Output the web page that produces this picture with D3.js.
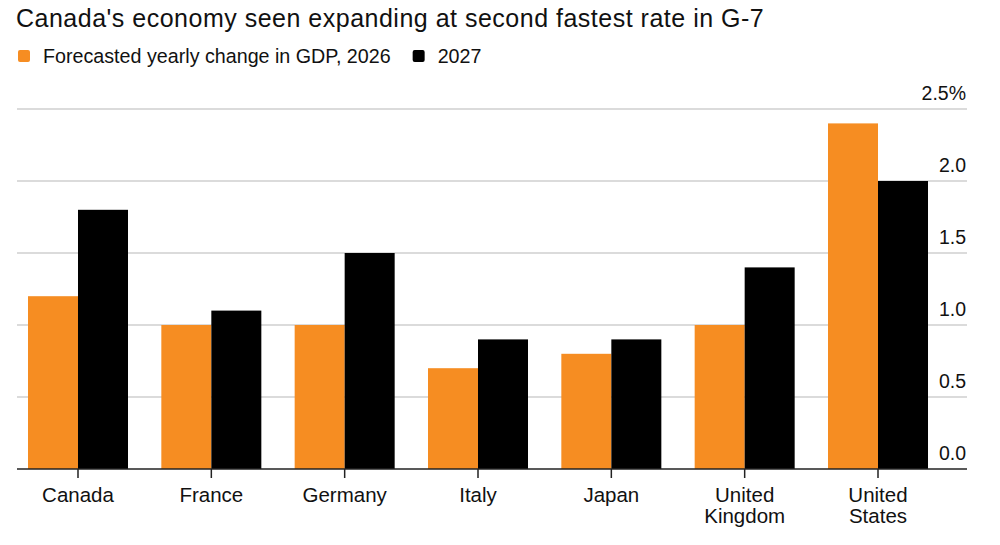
<!DOCTYPE html>
<html>
<head>
<meta charset="utf-8">
<script src="https://cdn.jsdelivr.net/npm/d3@7"></script>
<style>
  body { margin: 0; background: #fff; }
  svg text { font-family: "Liberation Sans", Arial, sans-serif; fill: #111; }
</style>
</head>
<body>
<div id="chart"></div>
<script>
// chart data
const countries = ["Canada", "France", "Germany", "Italy", "Japan", "United Kingdom", "United States"];
const gdp2026 = [1.2, 1.0, 1.0, 0.7, 0.8, 1.0, 2.4];
const gdp2027 = [1.8, 1.1, 1.5, 0.9, 0.9, 1.4, 2.0];
const yTicks = [0, 0.5, 1.0, 1.5, 2.0, 2.5];
const seriesNames = ["Forecasted yearly change in GDP, 2026", "2027"];
const colors = ["#f68d22", "#000000"];

const width = 1000, height = 545;
const svg = d3.select("#chart").append("svg")
    .attr("width", width)
    .attr("height", height);

// scales
const x = d3.scaleBand()
    .domain(countries)
    .range([11.33, 944.67])
    .paddingInner(0.25)
    .paddingOuter(0.125);

const xSub = d3.scaleBand()
    .domain([0, 1])
    .range([0, x.bandwidth()]);

const y = d3.scaleLinear()
    .domain([0, 2.5])
    .range([469, 109]);

// gridlines
svg.append("g")
    .selectAll("line")
    .data(yTicks.slice(1))
    .join("line")
    .attr("x1", 17)
    .attr("x2", 967)
    .attr("y1", d => y(d))
    .attr("y2", d => y(d))
    .attr("stroke", "#cfcfcf")
    .attr("stroke-width", 1.3);

// bars
const groups = svg.append("g")
    .selectAll("g")
    .data(countries)
    .join("g")
    .attr("transform", d => `translate(${x(d)},0)`);

groups.selectAll("rect")
    .data((d, i) => [gdp2026[i], gdp2027[i]])
    .join("rect")
    .attr("x", (d, j) => xSub(j))
    .attr("width", xSub.bandwidth())
    .attr("y", d => y(d))
    .attr("height", d => y(0) - y(d))
    .attr("fill", (d, j) => colors[j]);

// y labels (right side, above gridline)
svg.append("g")
    .selectAll("text")
    .data(yTicks)
    .join("text")
    .attr("x", 966)
    .attr("y", d => y(d) - 9)
    .attr("text-anchor", "end")
    .attr("font-size", 19.5)
    .text(d => d === 2.5 ? "2.5%" : d.toFixed(1));

// x axis
const xAxis = svg.append("g")
    .attr("transform", `translate(0,${y(0)})`);
xAxis.append("line")
    .attr("x1", 17).attr("x2", 967)
    .attr("stroke", "#222").attr("stroke-width", 1.5);
xAxis.selectAll(".tick")
    .data(countries)
    .join("line")
    .attr("x1", d => x(d) + x.bandwidth() / 2)
    .attr("x2", d => x(d) + x.bandwidth() / 2)
    .attr("y1", 0).attr("y2", 9)
    .attr("stroke", "#222").attr("stroke-width", 1.5);

const labels = xAxis.selectAll(".lbl")
    .data(countries)
    .join("text")
    .attr("text-anchor", "middle")
    .attr("font-size", 20.5)
    .attr("y", 33);
labels.each(function (d) {
    const parts = d.split(" ");
    const cx = x(d) + x.bandwidth() / 2;
    d3.select(this).selectAll("tspan")
        .data(parts)
        .join("tspan")
        .attr("x", cx)
        .attr("dy", (p, k) => k === 0 ? 0 : 21)
        .text(p => p);
});

// title
svg.append("text")
    .attr("x", 16)
    .attr("y", 27)
    .attr("font-size", 25)
    .attr("letter-spacing", 0.5)
    .text("Canada's economy seen expanding at second fastest rate in G-7");

// legend
let lx = 18;
const legend = svg.append("g");
seriesNames.forEach((name, i) => {
    legend.append("rect")
        .attr("x", lx).attr("y", 50)
        .attr("width", 12).attr("height", 12)
        .attr("rx", 2)
        .attr("fill", colors[i]);
    const t = legend.append("text")
        .attr("x", lx + 25)
        .attr("y", 63)
        .attr("font-size", 19.7)
        .text(name);
    lx += 25 + t.node().getComputedTextLength() + 22;
});
</script>
</body>
</html>
